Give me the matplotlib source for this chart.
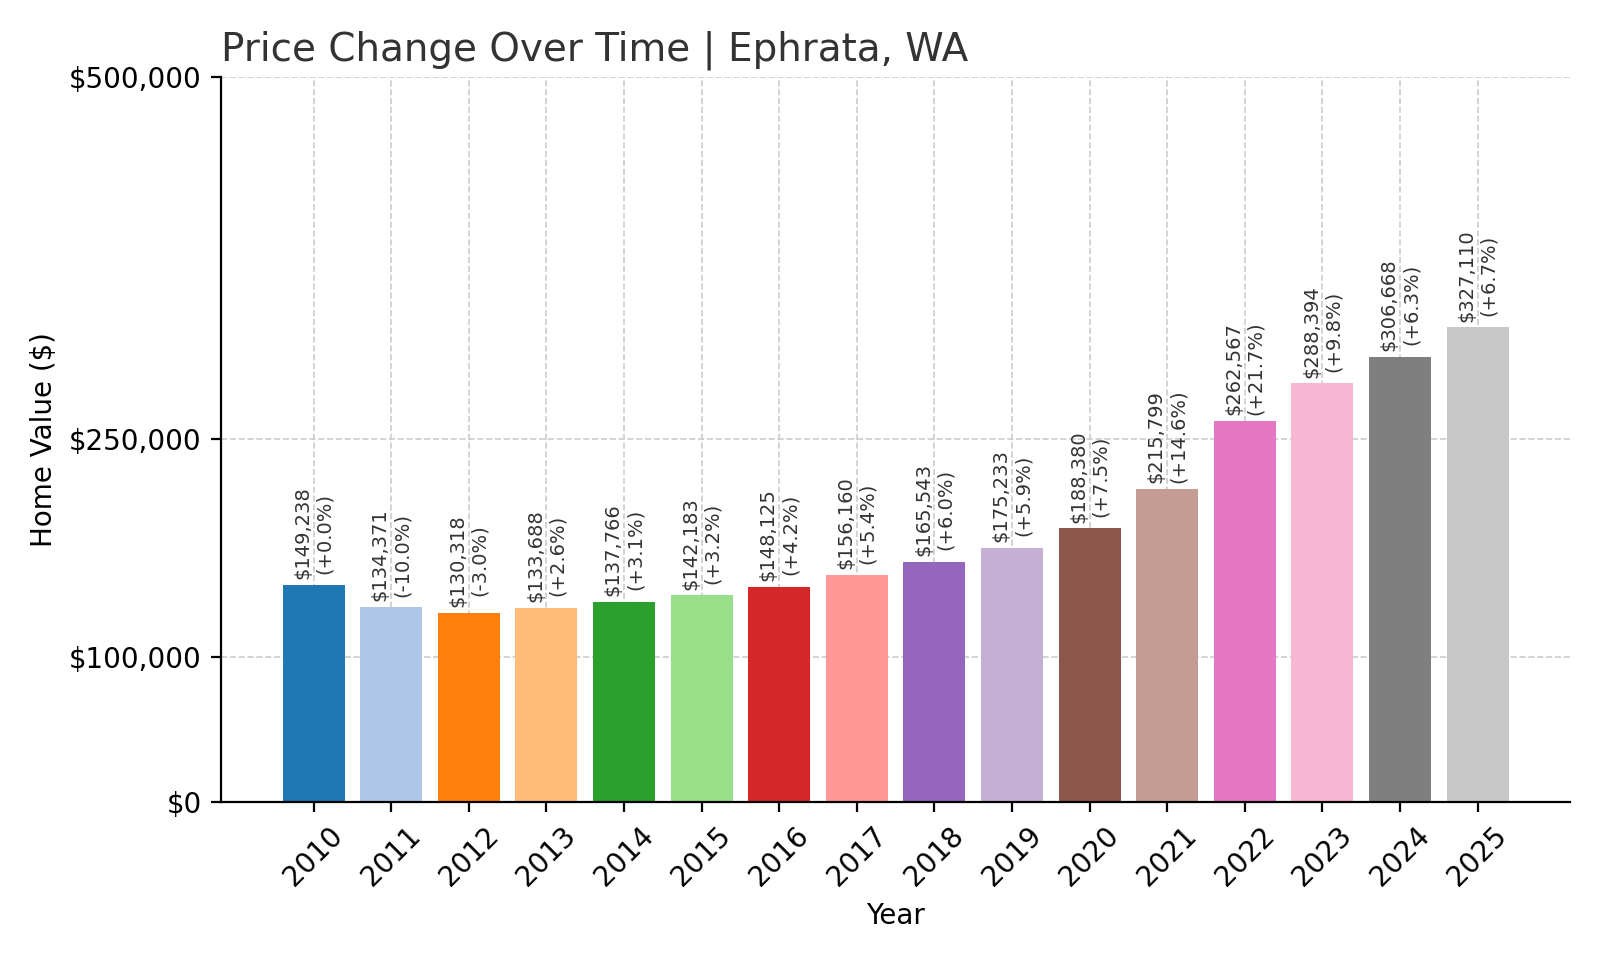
import matplotlib
matplotlib.use("Agg")
import matplotlib.pyplot as plt

years = [str(y) for y in range(2010, 2026)]
values = [149238, 134371, 130318, 133688, 137766, 142183, 148125, 156160,
          165543, 175233, 188380, 215799, 262567, 288394, 306668, 327110]
changes = ["+0.0%", "-10.0%", "-3.0%", "+2.6%", "+3.1%", "+3.2%", "+4.2%", "+5.4%",
           "+6.0%", "+5.9%", "+7.5%", "+14.6%", "+21.7%", "+9.8%", "+6.3%", "+6.7%"]
yticks = [0, 100000, 250000, 500000]

colors = plt.cm.tab20.colors

fig, ax = plt.subplots(figsize=(8, 4.8), dpi=200)
bars = ax.bar(years, values, color=colors[:len(values)], zorder=2)
for b, v, c in zip(bars, values, changes):
    ax.text(b.get_x() + b.get_width() / 2, v + 4000, f"${v:,}\n({c})",
            rotation=90, ha="center", va="bottom", fontsize=7, color="#333333")

ax.set_ylim(0, 500000)
ax.set_yticks(yticks)
ax.set_yticklabels([f"${t:,}" for t in yticks], fontsize=10)
ax.tick_params(axis="x", labelrotation=45, labelsize=10)
ax.grid(True, linestyle="--", color="#cccccc", linewidth=0.6, zorder=0)
ax.set_axisbelow(True)
ax.spines["top"].set_visible(False)
ax.spines["right"].set_visible(False)
ax.set_xlabel("Year", fontsize=10)
ax.set_ylabel("Home Value ($)", fontsize=10)
ax.set_title("Price Change Over Time | Ephrata, WA", loc="left", fontsize=14, color="#333333")

plt.tight_layout()
plt.savefig("out.png")
